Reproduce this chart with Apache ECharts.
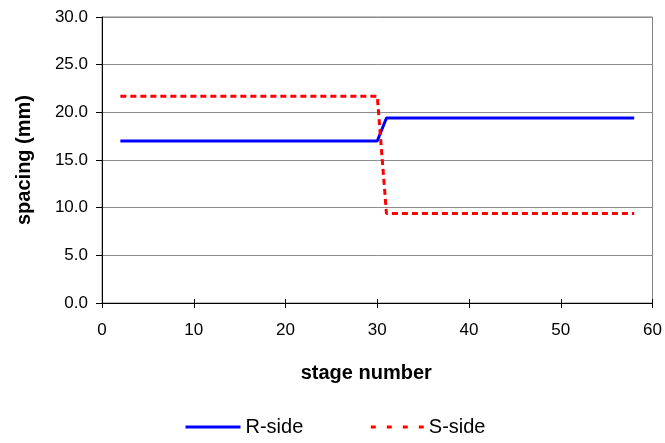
<!DOCTYPE html>
<html>
<head>
<meta charset="utf-8">
<script src="https://cdn.jsdelivr.net/npm/echarts@6/dist/echarts.min.js"></script>
<style>html,body{margin:0;padding:0;background:#fff;}#c{width:665px;height:443px;}</style>
</head>
<body>
<div id="c"></div>
<script>
const stages = [2, 30, 31, 58];
const rSide = [17.0, 17.0, 19.4, 19.4];
const sSide = [21.7, 21.7, 9.4, 9.4];
const seriesNames = ['R-side', 'S-side'];
const xTicks = [0, 10, 20, 30, 40, 50, 60];
const yTicks = [0, 5, 10, 15, 20, 25, 30];

const FONT = '"Liberation Sans", Arial, sans-serif';
const chart = echarts.init(document.getElementById('c'), null, {renderer: 'canvas'});
const toPairs = (xs, ys) => xs.map((x, i) => [x, ys[i]]);

chart.setOption({
  animation: false,
  backgroundColor: '#ffffff',
  grid: {left: 102, right: 11, top: 17, bottom: 140, show: true, borderColor: '#808080', borderWidth: 1, backgroundColor: 'transparent'},
  legend: {
    left: 184, top: 417, padding: 0,
    itemWidth: 55, itemHeight: 14, itemGap: 64,
    itemStyle: {opacity: 0},
    lineStyle: {width: 3},
    textStyle: {fontFamily: FONT, fontSize: 20, color: '#000'},
    data: [
      {name: seriesNames[0]},
      {name: seriesNames[1], lineStyle: {width: 3, type: [5, 11], dashOffset: -2}}
    ]
  },
  xAxis: [{
    type: 'value', min: xTicks[0], max: xTicks[xTicks.length - 1], interval: 10,
    name: 'stage number', nameLocation: 'middle', nameGap: 60,
    nameTextStyle: {fontFamily: FONT, fontSize: 20, fontWeight: 'bold', color: '#000', padding: [0, 22, 0, 0]},
    axisLine: {show: true, lineStyle: {color: '#000', width: 1}},
    axisTick: {show: true, length: 5, lineStyle: {color: '#000'}},
    axisLabel: {fontFamily: FONT, fontSize: 17, color: '#000', margin: 19},
    splitLine: {show: false}
  }, {
    type: 'value', min: xTicks[0], max: xTicks[xTicks.length - 1], interval: 10, position: 'bottom',
    axisLine: {show: false},
    axisTick: {show: true, inside: true, length: 4, lineStyle: {color: '#000'}},
    axisLabel: {show: false},
    splitLine: {show: false}
  }],
  yAxis: {
    type: 'value', min: yTicks[0], max: yTicks[yTicks.length - 1], interval: 5,
    name: 'spacing (mm)', nameLocation: 'middle', nameGap: 68,
    nameTextStyle: {fontFamily: FONT, fontSize: 20, fontWeight: 'bold', color: '#000'},
    axisLine: {show: true, lineStyle: {color: '#000', width: 1}},
    axisTick: {show: true, length: 6, lineStyle: {color: '#000'}},
    axisLabel: {fontFamily: FONT, fontSize: 17, color: '#000', margin: 14, formatter: v => v.toFixed(1)},
    splitLine: {show: true, lineStyle: {color: '#8c8c8c', width: 1}}
  },
  series: [{
    name: seriesNames[0], type: 'line', xAxisIndex: 0, symbol: 'none',
    data: toPairs(stages, rSide),
    lineStyle: {color: '#0000ff', width: 3},
    itemStyle: {color: '#0000ff'}
  }, {
    name: seriesNames[1], type: 'line', xAxisIndex: 0, symbol: 'none',
    data: toPairs(stages, sSide),
    lineStyle: {color: '#ff0000', width: 3, type: [6, 4]},
    itemStyle: {color: '#ff0000'}
  }]
});
</script>
</body>
</html>
